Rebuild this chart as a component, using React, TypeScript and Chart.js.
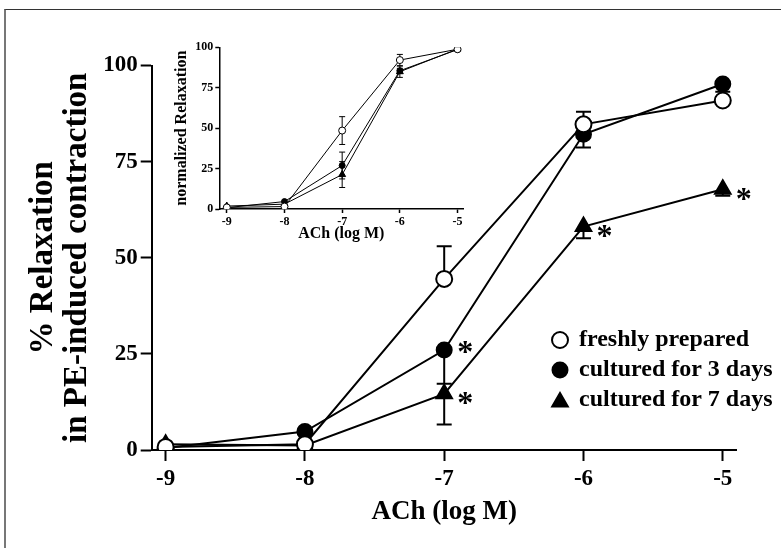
import React, { useEffect, useRef } from "react";
import { Chart, registerables } from "chart.js";

Chart.register(...registerables);

// ---------- data ----------
const X_VALUES = [-9, -8, -7, -6, -5];
const X_TICKS = [-9, -8, -7, -6, -5];
const Y_TICKS = [0, 25, 50, 75, 100];
const SERIES_LABELS = ["freshly prepared", "cultured for 3 days", "cultured for 7 days"];
const X_TITLE = "ACh (log M)";
const Y_TITLE = ["% Relaxation", "in PE-induced contraction"];
const INSET_Y_TITLE = "normalized Relaxation";

// main panel (% relaxation)
const FRESH = [0.8, 1.5, 44.5, 84.7, 90.9];
const DAY3 = [0.5, 4.8, 26.0, 82.1, 95.2];
const DAY7 = [1.5, 1.2, 14.6, 58.1, 67.8];
const FRESH_SEM = [0, 0, 8.5, 3.3, 0]; // shown upward
const DAY3_SEM = [0, 0, 8.8, 3.4, 2.0]; // shown downward
const DAY7_SEM = [0, 0, 8.0, 3.0, 1.7]; // shown downward
const DAY3_SIG = [false, false, true, false, false];
const DAY7_SIG = [false, false, true, true, true];

// inset panel (normalized relaxation)
const INSET_FRESH = [1.0, 1.5, 48.5, 92.1, 98.8];
const INSET_DAY3 = [0.8, 4.6, 26.9, 85.5, 98.6];
const INSET_DAY7 = [1.8, 3.0, 21.3, 84.9, 98.9];
const INSET_FRESH_SEM = [0, 0, 8.6, 3.5, 0.5];
const INSET_DAY3_SEM = [0, 0, 8.3, 1.5, 0.5];
const INSET_DAY7_SEM = [0, 0, 8.0, 3.5, 0.5];

const FONT = "'Liberation Serif', 'Times New Roman', serif";

const toPts = (ys: number[]) => X_VALUES.map((x, i) => ({ x, y: ys[i] }));

// ---------- plugins ----------
const errorBarPlugin = {
  id: "errorBars",
  beforeDatasetsDraw(chart: any, _args: any, opts: any) {
    const ctx = chart.ctx;
    const yScale = chart.scales.y;
    chart.data.datasets.forEach((ds: any, i: number) => {
      if (!ds.errors) return;
      const meta = chart.getDatasetMeta(i);
      ctx.save();
      ctx.strokeStyle = "#000";
      ctx.lineWidth = opts.lineWidth || 2;
      meta.data.forEach((pt: any, j: number) => {
        const e = ds.errors[j];
        if (!e) return;
        const v = ds.data[j].y;
        const dirs = ds.errDir === 0 ? [1, -1] : [ds.errDir];
        dirs.forEach((d: number) => {
          const yEnd = yScale.getPixelForValue(v + d * e);
          ctx.beginPath();
          ctx.moveTo(pt.x, pt.y);
          ctx.lineTo(pt.x, yEnd);
          ctx.moveTo(pt.x - opts.cap, yEnd);
          ctx.lineTo(pt.x + opts.cap, yEnd);
          ctx.stroke();
        });
      });
      ctx.restore();
    });
  },
};

const asteriskPlugin = {
  id: "asterisks",
  afterDatasetsDraw(chart: any, _args: any, opts: any) {
    if (!opts || !opts.display) return;
    const ctx = chart.ctx;
    chart.data.datasets.forEach((ds: any, i: number) => {
      if (!ds.sig) return;
      const meta = chart.getDatasetMeta(i);
      ctx.save();
      ctx.fillStyle = "#000";
      ctx.font = `bold ${opts.size}px ${FONT}`;
      ctx.textAlign = "center";
      ctx.textBaseline = "alphabetic";
      meta.data.forEach((pt: any, j: number) => {
        if (!ds.sig[j]) return;
        const cx = pt.x + opts.dx;
        const cy = pt.y + (ds.sigDy || 0);
        ctx.fillText("*", cx, cy + opts.size * 0.48);
      });
      ctx.restore();
    });
  },
};

function drawMarker(ctx: any, style: string, filled: boolean, x: number, y: number, r: number, lw: number) {
  ctx.beginPath();
  if (style === "triangle") {
    let rad = 0;
    ctx.moveTo(x + Math.sin(rad) * r, y - Math.cos(rad) * r);
    rad += (2 * Math.PI) / 3;
    ctx.lineTo(x + Math.sin(rad) * r, y - Math.cos(rad) * r);
    rad += (2 * Math.PI) / 3;
    ctx.lineTo(x + Math.sin(rad) * r, y - Math.cos(rad) * r);
    ctx.closePath();
  } else {
    ctx.arc(x, y, r, 0, Math.PI * 2);
  }
  ctx.fillStyle = filled ? "#000" : "#fff";
  ctx.fill();
  ctx.lineWidth = lw;
  ctx.strokeStyle = "#000";
  ctx.stroke();
}

const customLegendPlugin = {
  id: "customLegend",
  afterDraw(chart: any, _args: any, opts: any) {
    if (!opts || !opts.display) return;
    const ctx = chart.ctx;
    ctx.save();
    chart.data.datasets.forEach((ds: any, i: number) => {
      const y = opts.rows[i];
      drawMarker(ctx, ds.pointStyle, ds.pointBackgroundColor === "#000", opts.markerX, y + (ds.legendDy || 0), ds.legendRadius, 2);
      ctx.fillStyle = "#000";
      ctx.font = `bold ${opts.size}px ${FONT}`;
      ctx.textAlign = "left";
      ctx.textBaseline = "middle";
      ctx.fillText(ds.label, opts.textX, y);
    });
    ctx.restore();
  },
};

function makeDataset(label: string, ys: number[], style: string, filled: boolean, r: number, lw: number, extra: any) {
  return {
    label,
    data: toPts(ys),
    borderColor: "#000",
    borderWidth: lw,
    pointStyle: style,
    pointRadius: r,
    pointBackgroundColor: filled ? "#000" : "#fff",
    pointBorderColor: "#000",
    pointBorderWidth: lw,
    tension: 0,
    fill: false,
    ...extra,
  };
}

function axisBase(size: number, tickLen: number, lw: number, pad: number) {
  return {
    grid: {
      display: true,
      drawOnChartArea: false,
      drawTicks: true,
      tickLength: tickLen,
      tickWidth: lw,
      tickColor: "#000",
      color: "#000",
    },
    border: { display: true, color: "#000", width: lw },
    ticks: {
      color: "#000",
      font: { family: FONT, size, weight: "bold" },
      padding: pad,
      autoSkip: false,
      maxRotation: 0,
      callback: (v: any) => String(v),
    },
  };
}

export default function App() {
  const mainRef = useRef<HTMLCanvasElement | null>(null);
  const insetRef = useRef<HTMLCanvasElement | null>(null);

  useEffect(() => {
    if (!mainRef.current || !insetRef.current) return;

    const mainAxisX: any = axisBase(23, 11, 2, 4);
    const mainAxisY: any = axisBase(23, 11, 2, 3);

    const main = new Chart(mainRef.current, {
      type: "line",
      data: {
        datasets: [
          makeDataset(SERIES_LABELS[0], FRESH, "circle", false, 8, 2, { errors: FRESH_SEM, errDir: 1, legendRadius: 8 }),
          makeDataset(SERIES_LABELS[1], DAY3, "circle", true, 7.5, 2, { errors: DAY3_SEM, errDir: -1, sig: DAY3_SIG, sigDy: -3, legendRadius: 7.5 }),
          makeDataset(SERIES_LABELS[2], DAY7, "triangle", true, 9, 2, { errors: DAY7_SEM, errDir: -1, sig: DAY7_SIG, sigDy: 4, legendRadius: 9, legendDy: 2 }),
        ],
      },
      options: {
        responsive: false,
        animation: false,
        events: [],
        layout: { padding: { top: 65.5, right: 44.3, bottom: 0, left: 0 } },
        plugins: {
          legend: { display: false },
          tooltip: { enabled: false },
          errorBars: { lineWidth: 2, cap: 7.5 },
          asterisks: { display: true, size: 32, dx: 21 },
          customLegend: { display: true, markerX: 560, textX: 579, rows: [340, 370, 400], size: 24 },
        } as any,
        scales: {
          x: {
            type: "linear",
            min: -9.1,
            max: -4.9,
            afterBuildTicks: (s: any) => {
              s.ticks = X_TICKS.map((v) => ({ value: v }));
            },
            afterFit: (s: any) => {
              s.height = 98;
            },
            ...mainAxisX,
            title: {
              display: true,
              text: X_TITLE,
              color: "#000",
              font: { family: FONT, size: 27, weight: "bold", lineHeight: 1.2 },
              padding: { top: 0, bottom: 20 },
            },
          },
          y: {
            type: "linear",
            min: 0,
            max: 100,
            afterBuildTicks: (s: any) => {
              s.ticks = Y_TICKS.map((v) => ({ value: v }));
            },
            afterFit: (s: any) => {
              s.width = 151.7;
            },
            ...mainAxisY,
            title: {
              display: true,
              text: Y_TITLE,
              color: "#000",
              font: { family: FONT, size: 33, weight: "bold", lineHeight: 1.03 },
              padding: { top: 26, bottom: 0 },
            },
          },
        } as any,
      },
      plugins: [errorBarPlugin, asteriskPlugin, customLegendPlugin],
    });

    const insAxisX: any = axisBase(12, 4, 1.5, 2);
    const insAxisY: any = axisBase(12, 4, 1.5, 2);

    const inset = new Chart(insetRef.current, {
      type: "line",
      data: {
        datasets: [
          makeDataset(SERIES_LABELS[0], INSET_FRESH, "circle", false, 3.5, 1, { errors: INSET_FRESH_SEM, errDir: 0 }),
          makeDataset(SERIES_LABELS[1], INSET_DAY3, "circle", true, 3, 1, { errors: INSET_DAY3_SEM, errDir: 0 }),
          makeDataset(SERIES_LABELS[2], INSET_DAY7, "triangle", true, 4, 1, { errors: INSET_DAY7_SEM, errDir: 0 }),
        ],
      },
      options: {
        responsive: false,
        animation: false,
        events: [],
        layout: { padding: { top: 17.3, right: 16.7, bottom: 0, left: 0 } },
        plugins: {
          legend: { display: false },
          tooltip: { enabled: false },
          errorBars: { lineWidth: 1, cap: 3 },
          asterisks: { display: false },
          customLegend: { display: false },
        } as any,
        scales: {
          x: {
            type: "linear",
            min: -9.13,
            max: -4.9,
            afterBuildTicks: (s: any) => {
              s.ticks = X_TICKS.map((v) => ({ value: v }));
            },
            afterFit: (s: any) => {
              s.height = 41;
            },
            ...insAxisX,
            title: {
              display: true,
              text: X_TITLE,
              color: "#000",
              font: { family: FONT, size: 16, weight: "bold", lineHeight: 1.2 },
              padding: { top: 0, bottom: 7 },
            },
          },
          y: {
            type: "linear",
            min: 0,
            max: 100,
            afterBuildTicks: (s: any) => {
              s.ticks = Y_TICKS.map((v) => ({ value: v }));
            },
            afterFit: (s: any) => {
              s.width = 59.3;
            },
            ...insAxisY,
            title: {
              display: true,
              text: INSET_Y_TITLE,
              color: "#000",
              font: { family: FONT, size: 16, weight: "bold", lineHeight: 1.2 },
              padding: { top: 12.4, bottom: 0 },
            },
          },
        } as any,
      },
      plugins: [errorBarPlugin],
    });

    return () => {
      main.destroy();
      inset.destroy();
    };
  }, []);

  return (
    <div style={{ position: "absolute", left: 0, top: 0, width: 781, height: 548, background: "#fff", overflow: "hidden" }}>
      <div
        style={{
          position: "absolute",
          left: 4,
          top: 9,
          width: 777,
          height: 539,
          borderTop: "1.5px solid #333",
          borderLeft: "2px solid #777",
          boxSizing: "border-box",
        }}
      />
      <canvas ref={mainRef} width={781} height={548} style={{ position: "absolute", left: 0, top: 0, display: "block" }} />
      <canvas ref={insetRef} width={320} height={220} style={{ position: "absolute", left: 160, top: 30, display: "block" }} />
    </div>
  );
}
